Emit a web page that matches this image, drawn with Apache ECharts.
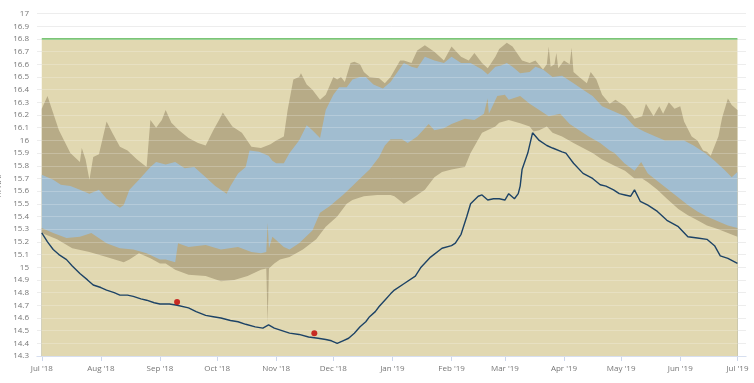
<!DOCTYPE html>
<html>
<head>
<meta charset="utf-8">
<script src="https://cdn.jsdelivr.net/npm/echarts@6/dist/echarts.min.js"></script>
<style>
html,body{margin:0;padding:0;background:#fff;}
#chart{width:754px;height:383px;}
</style>
</head>
<body>
<div id="chart"></div>
<script>
// x values: days since 1 Jul 2018
const monthDays = [0, 31, 62, 92, 123, 153, 184, 215, 243, 274, 304, 335, 365];
const monthLabels = ["Jul '18", "Aug '18", "Sep '18", "Oct '18", "Nov '18", "Dec '18", "Jan '19", "Feb '19", "Mar '19", "Apr '19", "May '19", "Jun '19", "Jul '19"];

const referenceLevel = [[0, 16.8], [365, 16.8]];

// upper edge of outer band
const outerHigh = [[0,16.25],[3,16.35],[9,16.08],[15,15.90],[20,15.83],[21,15.94],[23,15.85],[25,15.69],[27,15.87],[30,15.89],[34,16.15],[37,16.06],[41,15.95],[45,15.92],[50,15.85],[55,15.79],[57,16.16],[60,16.10],[63,16.16],[65,16.24],[68,16.14],[72,16.08],[77,16.02],[82,15.98],[86,15.96],[90,16.08],[93,16.16],[95,16.22],[100,16.11],[105,16.06],[110,15.95],[115,15.94],[120,15.97],[123,16.0],[127,16.03],[129,16.24],[132,16.48],[135,16.50],[136,16.53],[139,16.44],[142,16.40],[146,16.32],[149,16.36],[153,16.50],[155,16.48],[157,16.50],[159,16.46],[162,16.61],[164,16.62],[167,16.60],[169,16.54],[172,16.50],[177,16.49],[180,16.45],[183,16.50],[188,16.63],[190,16.63],[194,16.61],[197,16.71],[201,16.75],[206,16.70],[211,16.63],[215,16.74],[220,16.66],[224,16.63],[227,16.69],[231,16.61],[234,16.57],[238,16.66],[240,16.72],[244,16.77],[247,16.74],[252,16.63],[256,16.61],[259,16.63],[263,16.56],[265,16.60],[266,16.74],[267,16.58],[269,16.60],[270,16.69],[271,16.57],[274,16.63],[277,16.60],[278,16.73],[279,16.54],[282,16.50],[286,16.45],[288,16.54],[291,16.48],[294,16.36],[298,16.29],[301,16.32],[306,16.27],[311,16.17],[315,16.19],[317,16.29],[321,16.19],[324,16.27],[326,16.21],[329,16.30],[332,16.25],[335,16.27],[337,16.15],[341,16.03],[344,16.0],[347,15.92],[349,15.91],[351,15.88],[355,16.03],[357,16.18],[360,16.33],[362,16.28],[365,16.24]];

// upper edge of inner band
const innerHigh = [[0,15.73],[6,15.69],[10,15.65],[15,15.64],[20,15.61],[25,15.58],[30,15.61],[34,15.54],[41,15.47],[43,15.49],[46,15.61],[51,15.69],[57,15.79],[60,15.83],[65,15.81],[70,15.83],[75,15.78],[80,15.79],[86,15.71],[91,15.64],[97,15.58],[99,15.64],[103,15.74],[107,15.79],[109,15.92],[114,15.91],[119,15.88],[121,15.84],[123,15.82],[127,15.82],[130,15.90],[135,16.0],[139,16.12],[142,16.08],[146,16.02],[149,16.24],[153,16.36],[156,16.42],[160,16.42],[163,16.48],[167,16.50],[170,16.50],[174,16.44],[179,16.41],[183,16.46],[188,16.57],[190,16.61],[194,16.58],[197,16.57],[201,16.66],[206,16.63],[211,16.61],[215,16.66],[220,16.61],[225,16.61],[231,16.56],[234,16.52],[238,16.58],[241,16.59],[244,16.61],[247,16.58],[251,16.53],[256,16.54],[259,16.58],[263,16.56],[268,16.50],[273,16.51],[279,16.45],[284,16.40],[289,16.35],[294,16.27],[300,16.23],[306,16.19],[311,16.11],[316,16.07],[322,16.03],[327,16.0],[332,16.0],[337,16.0],[342,15.96],[348,15.90],[353,15.84],[358,15.77],[362,15.71],[365,15.75]];

// lower edge of inner band
const innerLow = [[0,15.31],[6,15.27],[13,15.23],[20,15.24],[26,15.27],[34,15.19],[41,15.15],[48,15.14],[55,15.11],[62,15.06],[65,15.06],[70,15.04],[71.5,15.19],[77,15.16],[86,15.175],[94,15.14],[103,15.16],[110,15.12],[115,15.11],[117.8,15.12],[118.5,15.35],[119.2,15.15],[121,15.24],[127,15.16],[130,15.14],[135,15.19],[142,15.29],[146,15.43],[151,15.48],[158,15.57],[163,15.64],[167,15.70],[172,15.77],[177,15.87],[180,15.96],[183,16.01],[189,16.01],[192,15.98],[197,16.03],[203,16.13],[206,16.08],[211,16.095],[215,16.13],[222,16.17],[227,16.16],[232,16.21],[233.9,16.33],[234.6,16.21],[239,16.35],[243,16.36],[245,16.32],[251,16.35],[256,16.29],[261,16.24],[266,16.19],[272,16.21],[277,16.13],[282,16.08],[287,16.03],[293,15.98],[298,15.92],[300.5,15.90],[305.7,15.82],[311,15.76],[314.5,15.83],[318,15.74],[323,15.68],[328,15.62],[334,15.55],[339,15.49],[344,15.44],[349,15.40],[355,15.36],[360,15.33],[365,15.31]];

// lower edge of outer band
const outerLow = [[0,15.27],[8,15.22],[16,15.15],[25,15.12],[34,15.08],[43,15.04],[46,15.06],[51,15.11],[57,15.07],[62,15.03],[65,15.03],[70,14.98],[77,14.94],[86,14.93],[94,14.89],[101,14.90],[108,14.93],[115,14.98],[117.8,14.99],[118.5,14.56],[119.2,14.99],[122,15.03],[125,15.06],[130,15.08],[137,15.14],[144,15.22],[149,15.32],[155,15.40],[160,15.50],[163,15.53],[169,15.56],[176,15.57],[183,15.57],[185,15.56],[190,15.50],[196,15.56],[201,15.61],[206,15.71],[210,15.75],[215,15.77],[222,15.79],[225,15.90],[231,16.06],[238,16.11],[240,16.14],[245,16.16],[251,16.135],[256,16.11],[258,16.07],[261,16.08],[265,16.11],[268,16.06],[273,16.03],[279,15.98],[284,15.94],[289,15.90],[294,15.85],[300.5,15.80],[306,15.76],[311,15.70],[315,15.70],[318,15.67],[323,15.61],[328,15.54],[334,15.46],[339,15.41],[344,15.37],[349,15.33],[355,15.30],[360,15.27],[365,15.24]];

// measured level
const measured = [[0,15.27],[3,15.20],[6,15.14],[9,15.10],[13,15.06],[16,15.01],[20,14.95],[24,14.90],[27,14.86],[31,14.84],[34,14.82],[38,14.80],[41,14.78],[45,14.78],[48,14.77],[52,14.75],[55,14.74],[59,14.72],[62,14.71],[67,14.71],[71,14.70],[77,14.68],[81,14.65],[86,14.62],[90,14.61],[94,14.60],[99,14.58],[103,14.57],[107,14.55],[112,14.53],[116,14.52],[119,14.545],[122,14.52],[126,14.50],[130,14.48],[135,14.47],[140,14.45],[145,14.44],[149,14.43],[152,14.42],[155,14.40],[158,14.42],[161,14.44],[164,14.48],[167,14.53],[170,14.57],[172,14.61],[175,14.65],[177,14.69],[180,14.74],[183,14.79],[185,14.82],[190,14.87],[196,14.93],[199,15.0],[204,15.08],[210,15.15],[215,15.17],[217,15.19],[220,15.26],[223,15.40],[225,15.50],[229,15.56],[231,15.57],[234,15.53],[237,15.54],[240,15.54],[243,15.53],[245,15.58],[248,15.54],[250,15.58],[251,15.64],[252,15.77],[255,15.90],[257.5,16.06],[261,16.00],[265,15.96],[268,15.94],[273,15.91],[275,15.90],[279,15.82],[284,15.74],[289,15.70],[293,15.65],[296,15.64],[300,15.61],[303,15.58],[306,15.57],[309,15.56],[311,15.61],[314,15.52],[318,15.49],[323,15.44],[328,15.37],[334,15.32],[339,15.24],[344,15.23],[349,15.22],[353,15.17],[356,15.09],[360,15.07],[365,15.03]];

// manual readings
const manual = [[71, 14.725], [143, 14.48]];

const TAN = '#e1d8b1';
const KHAKI = '#b7ab87';
const BLUE = '#a1bdd0';

function band(data, color, z) {
  return {
    type: 'line', data: data, showSymbol: false, silent: true, z: z,
    lineStyle: { width: 0 },
    areaStyle: { color: color, opacity: 1, origin: 'start' }
  };
}

const yCommon = { type: 'value', min: 14.3, max: 17, interval: 0.1 };

const chart = echarts.init(document.getElementById('chart'), null, { renderer: 'canvas' });
chart.setOption({
  animation: false,
  backgroundColor: '#ffffff',
  grid: { left: 37, right: 8, top: 13.6, bottom: 27, containLabel: false, outerBoundsMode: 'none' },
  xAxis: {
    type: 'value', min: -2.5, max: 369.5,
    splitLine: { show: false },
    axisLine: { show: true, lineStyle: { color: '#ccd6eb' } },
    axisTick: { show: true, length: 5, lineStyle: { color: '#ccd6eb' }, customValues: monthDays },
    axisLabel: {
      customValues: monthDays, margin: 9, hideOverlap: false,
      color: '#777', fontSize: 8, fontFamily: 'Open Sans, sans-serif',
      formatter: function (v) { const i = monthDays.indexOf(Math.round(v)); return i >= 0 ? monthLabels[i] : ''; }
    }
  },
  yAxis: [
    Object.assign({}, yCommon, {
      name: 'm NAP', nameLocation: 'middle', nameGap: 29, nameRotate: 90,
      nameTextStyle: { color: '#777', fontSize: 8, fontFamily: 'Open Sans, sans-serif' },
      axisLine: { show: false }, axisTick: { show: false },
      axisLabel: {
        color: '#777', fontSize: 8, fontFamily: 'Open Sans, sans-serif', margin: 8, hideOverlap: false,
        formatter: function (v) { return String(Number(v.toFixed(1))); }
      },
      splitLine: { show: true, lineStyle: { color: '#e8e8e8', width: 1 } }
    }),
    Object.assign({}, yCommon, {
      z: 5, show: true,
      axisLine: { show: false }, axisTick: { show: false }, axisLabel: { show: false },
      splitLine: { show: true, lineStyle: { color: 'rgba(255,255,255,0.22)', width: 1 } }
    })
  ],
  series: [
    {
      type: 'line', data: referenceLevel, showSymbol: false, silent: true, z: 1,
      lineStyle: { color: '#7cc576', width: 2 },
      areaStyle: { color: TAN, opacity: 1, origin: 'start' }
    },
    band(outerHigh, KHAKI, 2),
    band(innerHigh, BLUE, 2),
    band(innerLow, KHAKI, 2),
    band(outerLow, TAN, 2),
    {
      type: 'line', data: measured, showSymbol: false, silent: true, z: 6,
      lineStyle: { color: '#1d4366', width: 1.4 }
    },
    {
      type: 'scatter', data: manual, symbolSize: 6, z: 7, silent: true,
      itemStyle: { color: '#c00000' }
    }
  ]
});
</script>
</body>
</html>
